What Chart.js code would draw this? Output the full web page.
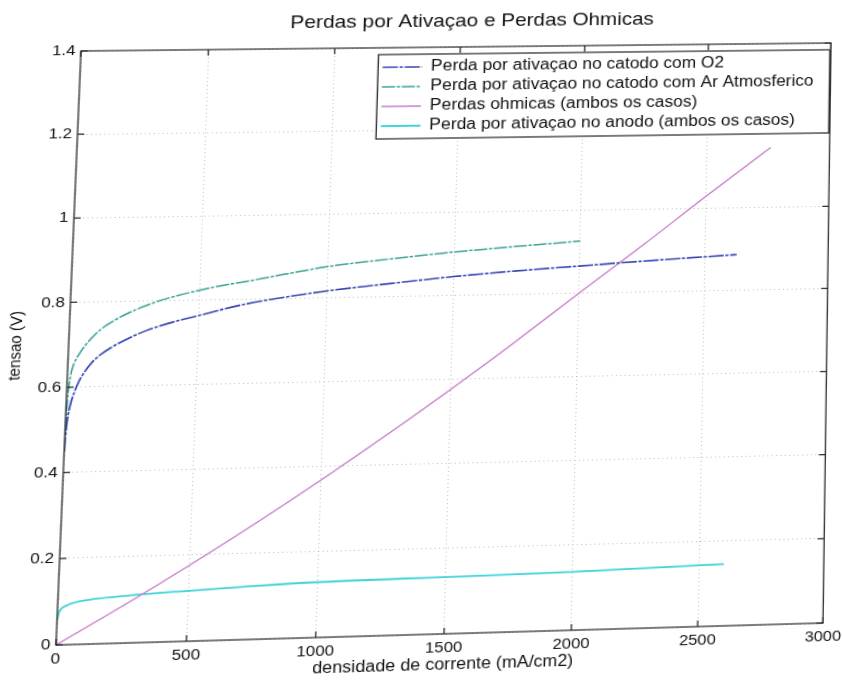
<!DOCTYPE html>
<html>
<head>
<meta charset="utf-8">
<script src="https://cdn.jsdelivr.net/npm/chart.js@4.4.0/dist/chart.umd.min.js"></script>
<style>
  html, body { margin: 0; padding: 0; background: #fff; overflow: hidden; }
  body { width: 842px; height: 680px; position: relative; }
  canvas { position: absolute; left: 0; top: 0; transform-origin: 0 0; }
</style>
</head>
<body>
<canvas id="chart" width="769" height="680"></canvas>
<script>
// Cathode activation loss, pure O2
const xO2 = [1, 2, 4, 7, 12, 20, 30, 45, 65, 90, 125, 170, 230, 300, 403, 500, 663, 800, 1000, 1250, 1500, 1750, 2000, 2250, 2500, 2630];
const yO2 = [0.45, 0.475, 0.50, 0.522, 0.545, 0.568, 0.588, 0.612, 0.634, 0.655, 0.675, 0.693, 0.712, 0.73, 0.749, 0.763, 0.786, 0.80, 0.816, 0.831, 0.845, 0.856, 0.865, 0.874, 0.882, 0.886];

// Cathode activation loss, atmospheric air
const xAr = [1, 2, 4, 7, 12, 20, 30, 45, 65, 90, 125, 170, 230, 337, 500, 750, 1000, 1250, 1500, 1750, 2000];
const yAr = [0.50, 0.535, 0.568, 0.597, 0.625, 0.648, 0.664, 0.68, 0.698, 0.716, 0.736, 0.754, 0.773, 0.798, 0.823, 0.849, 0.874, 0.89, 0.904, 0.915, 0.925];

// Ohmic losses (both cases)
const xOhm = [0, 250, 500, 750, 1000, 1250, 1500, 1750, 2000, 2250, 2500, 2760];
const yOhm = [0, 0.086, 0.176, 0.27, 0.368, 0.47, 0.576, 0.686, 0.80, 0.912, 1.028, 1.145];

// Anode activation loss (both cases)
const xAn = [0, 3, 10, 32, 90, 257, 500, 750, 1000, 1500, 2000, 2600];
const yAn = [0.058, 0.068, 0.08, 0.09, 0.10, 0.109, 0.117, 0.124, 0.129, 0.133, 0.137, 0.146];

const seriesLabels = [
  'Perda por ativaçao no catodo com O2',
  'Perda por ativaçao no catodo com Ar Atmosferico',
  'Perdas ohmicas (ambos os casos)',
  'Perda por ativaçao no anodo (ambos os casos)'
];

const xTicks = [0, 500, 1000, 1500, 2000, 2500, 3000];
const xTickLabels = ['0', '500', '1000', '1500', '2000', '2500', '3000'];
const yTicks = [0, 0.2, 0.4, 0.6, 0.8, 1.0, 1.2, 1.4];
const yTickLabels = ['0', '0.2', '0.4', '0.6', '0.8', '1', '1.2', '1.4'];

const titleText = 'Perdas por Ativaçao e Perdas Ohmicas';
const xTitle = 'densidade de corrente (mA/cm2)';
const yTitle = 'tensao (V)';

const FONT = '"Liberation Sans", Arial, Helvetica, sans-serif';
const GRID = 'rgba(140,142,155,0.55)';

const pts = (xs, ys) => xs.map((x, i) => ({ x, y: ys[i] }));

// Axes box, inward ticks and the title, drawn around the plot area
const frame = {
  id: 'frame',
  afterDraw(chart) {
    const { ctx, chartArea: a, scales } = chart;
    ctx.save();
    ctx.strokeStyle = '#2a2a2a';
    ctx.lineWidth = 1.2;
    ctx.setLineDash([]);
    ctx.strokeRect(a.left, a.top, a.right - a.left, a.bottom - a.top);
    const t = 6;
    ctx.beginPath();
    xTicks.forEach(v => {
      const px = scales.x.getPixelForValue(v);
      ctx.moveTo(px, a.bottom); ctx.lineTo(px, a.bottom - t);
      ctx.moveTo(px, a.top); ctx.lineTo(px, a.top + t);
    });
    yTicks.forEach(v => {
      const py = scales.y.getPixelForValue(v);
      ctx.moveTo(a.left, py); ctx.lineTo(a.left + t, py);
      ctx.moveTo(a.right, py); ctx.lineTo(a.right - t, py);
    });
    ctx.stroke();
    ctx.fillStyle = '#111';
    ctx.font = '19px ' + FONT;
    ctx.textAlign = 'center';
    ctx.textBaseline = 'middle';
    ctx.fillText(titleText, (a.left + a.right) / 2 + 11, a.top - 26);
    ctx.restore();
  }
};

// Boxed legend in the upper right corner of the plot
const boxLegend = {
  id: 'boxLegend',
  afterDraw(chart) {
    const { ctx, chartArea: a } = chart;
    const w = 416, h = 86, rowH = 20;
    const x0 = a.right - w - 1, y0 = a.top + 7;
    ctx.save();
    ctx.fillStyle = '#fff';
    ctx.fillRect(x0, y0, w, h);
    ctx.strokeStyle = '#222';
    ctx.lineWidth = 1.2;
    ctx.setLineDash([]);
    ctx.strokeRect(x0, y0, w, h);
    ctx.font = '16px ' + FONT;
    ctx.textBaseline = 'middle';
    ctx.textAlign = 'left';
    chart.data.datasets.forEach((ds, i) => {
      const y = y0 + 13 + i * rowH;
      ctx.strokeStyle = ds.borderColor;
      ctx.lineWidth = ds.borderWidth;
      ctx.setLineDash(ds.borderDash || []);
      ctx.beginPath();
      ctx.moveTo(x0 + 4, y);
      ctx.lineTo(x0 + 40, y);
      ctx.stroke();
      ctx.setLineDash([]);
      ctx.fillStyle = '#111';
      ctx.fillText(ds.label, x0 + 48, y);
    });
    ctx.restore();
  }
};

const line = (label, data, color, width, dash) => ({
  label, data,
  borderColor: color,
  borderWidth: width,
  borderDash: dash,
  pointRadius: 0,
  fill: false,
  showLine: true,
  cubicInterpolationMode: 'monotone'
});

const chart = new Chart(document.getElementById('chart'), {
  type: 'scatter',
  data: {
    datasets: [
      line(seriesLabels[0], pts(xO2, yO2), '#3444b0', 1.6, [14, 1.5, 3, 1.5]),
      line(seriesLabels[1], pts(xAr, yAr), '#37a192', 1.5, [12, 1.5, 3, 1.5]),
      line(seriesLabels[2], pts(xOhm, yOhm), '#c878c8', 1.3, []),
      line(seriesLabels[3], pts(xAn, yAn), '#40d3d9', 1.8, [])
    ]
  },
  options: {
    responsive: false,
    animation: false,
    layout: { padding: { top: 48, right: 13, left: 0, bottom: 0 } },
    plugins: {
      legend: { display: false },
      title: { display: false },
      tooltip: { enabled: false }
    },
    scales: {
      x: {
        type: 'linear', min: 0, max: 3000,
        afterBuildTicks: s => { s.ticks = xTicks.map(v => ({ value: v })); },
        afterFit: s => { s.height = 43; },
        ticks: {
          padding: 5, color: '#111', maxRotation: 0,
          font: { family: FONT, size: 15 },
          callback: (v, i) => xTickLabels[i]
        },
        grid: { color: GRID, lineWidth: 1, drawTicks: false },
        border: { display: false, dash: [1, 3] },
        title: {
          display: true, text: xTitle, color: '#111',
          font: { family: FONT, size: 16 },
          padding: { top: 0, bottom: 3 }
        }
      },
      y: {
        type: 'linear', min: 0, max: 1.4,
        afterBuildTicks: s => { s.ticks = yTicks.map(v => ({ value: v })); },
        afterFit: s => { s.width = 62; },
        ticks: {
          padding: 5, color: '#111',
          font: { family: FONT, size: 15 },
          callback: (v, i) => yTickLabels[i]
        },
        grid: { color: GRID, lineWidth: 1, drawTicks: false },
        border: { display: false, dash: [1, 3] },
        title: {
          display: true, text: yTitle, color: '#111',
          font: { family: FONT, size: 15 },
          padding: { top: 7, bottom: 0 }
        }
      }
    }
  },
  plugins: [frame, boxLegend]
});

// Projective warp of the canvas so the plot box sits on the page's skewed frame
function solve(A, b) {
  const n = b.length;
  for (let i = 0; i < n; i++) {
    let p = i;
    for (let r = i + 1; r < n; r++) if (Math.abs(A[r][i]) > Math.abs(A[p][i])) p = r;
    [A[i], A[p]] = [A[p], A[i]]; [b[i], b[p]] = [b[p], b[i]];
    for (let r = i + 1; r < n; r++) {
      const f = A[r][i] / A[i][i];
      for (let c = i; c < n; c++) A[r][c] -= f * A[i][c];
      b[r] -= f * b[i];
    }
  }
  const x = new Array(n).fill(0);
  for (let i = n - 1; i >= 0; i--) {
    let s = b[i];
    for (let c = i + 1; c < n; c++) s -= A[i][c] * x[c];
    x[i] = s / A[i][i];
  }
  return x;
}
function warp(src, dst) {
  const A = [], b = [];
  for (let i = 0; i < 4; i++) {
    const [x, y] = src[i], [u, v] = dst[i];
    A.push([x, y, 1, 0, 0, 0, -u * x, -u * y]); b.push(u);
    A.push([0, 0, 0, x, y, 1, -v * x, -v * y]); b.push(v);
  }
  const h = solve(A, b);
  return `matrix3d(${h[0]},${h[3]},0,${h[6]},${h[1]},${h[4]},0,${h[7]},0,0,1,0,${h[2]},${h[5]},0,1)`;
}
const ca = chart.chartArea;
const frameCorners = [[81, 51], [831, 43], [823, 623], [56, 645]];
chart.canvas.style.transform = warp(
  [[ca.left, ca.top], [ca.right, ca.top], [ca.right, ca.bottom], [ca.left, ca.bottom]],
  frameCorners
);
</script>
</body>
</html>
